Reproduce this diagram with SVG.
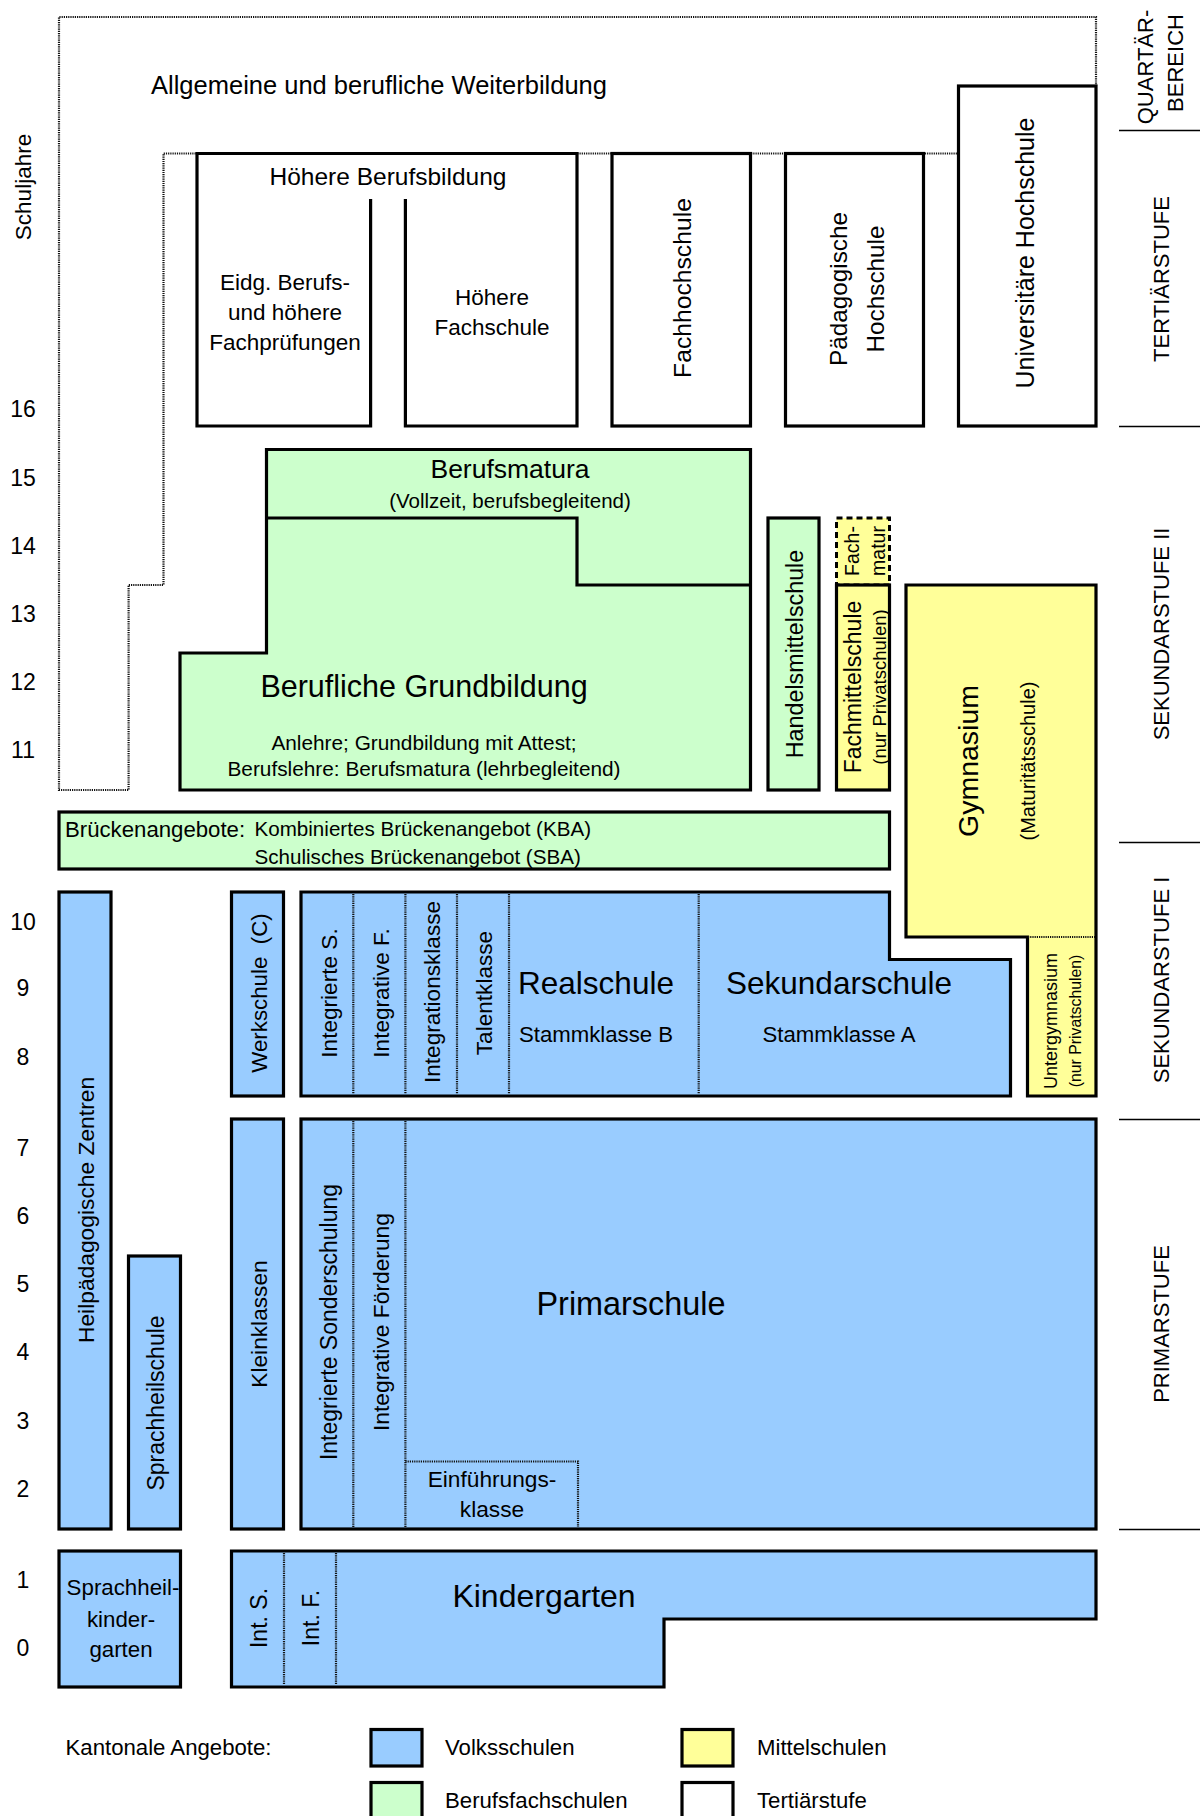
<svg xmlns="http://www.w3.org/2000/svg" width="1200" height="1816" viewBox="0 0 1200 1816">
<style>
text{font-family:"Liberation Sans",Arial,sans-serif;fill:#000}
.box{stroke:#000;stroke-width:3.2;stroke-linejoin:miter}
.b{fill:#99CCFF}
.g{fill:#CCFFCC}
.y{fill:#FFFF99}
.w{fill:#FFFFFF}
.dot{fill:none;stroke:#111;stroke-width:2.2;stroke-dasharray:1.2 1}
.thin{stroke:#000;stroke-width:1.3}
.v{text-anchor:middle;dominant-baseline:central}
.m{text-anchor:middle}
.num{font-size:23px;text-anchor:middle;dominant-baseline:central}
.stage{font-size:22px}
</style>

<!-- axis labels -->
<g id="axis">
<text class="v" font-size="22.5" transform="translate(23,187) rotate(-90)">Schuljahre</text>
<text class="num" x="23" y="409">16</text>
<text class="num" x="23" y="478">15</text>
<text class="num" x="23" y="546">14</text>
<text class="num" x="23" y="614">13</text>
<text class="num" x="23" y="682">12</text>
<text class="num" x="23" y="750">11</text>
<text class="num" x="23" y="922">10</text>
<text class="num" x="23" y="988">9</text>
<text class="num" x="23" y="1057">8</text>
<text class="num" x="23" y="1148">7</text>
<text class="num" x="23" y="1216">6</text>
<text class="num" x="23" y="1284">5</text>
<text class="num" x="23" y="1352">4</text>
<text class="num" x="23" y="1421">3</text>
<text class="num" x="23" y="1489">2</text>
<text class="num" x="23" y="1580">1</text>
<text class="num" x="23" y="1648">0</text>
</g>

<!-- stage labels right -->
<g id="stages">
<line class="thin" x1="1119" y1="130.5" x2="1200" y2="130.5"/>
<line class="thin" x1="1119" y1="426.5" x2="1200" y2="426.5"/>
<line class="thin" x1="1119" y1="842.5" x2="1200" y2="842.5"/>
<line class="thin" x1="1119" y1="1119.5" x2="1200" y2="1119.5"/>
<line class="thin" x1="1119" y1="1529.5" x2="1200" y2="1529.5"/>
<text class="v stage" font-size="20" transform="translate(1145,67) rotate(-90)">QUARTÄR-</text>
<text class="v stage" font-size="20" transform="translate(1175,63) rotate(-90)">BEREICH</text>
<text class="v stage" transform="translate(1161,279) rotate(-90)">TERTIÄRSTUFE</text>
<text class="v stage" transform="translate(1161,634) rotate(-90)">SEKUNDARSTUFE II</text>
<text class="v stage" transform="translate(1161,980) rotate(-90)">SEKUNDARSTUFE I</text>
<text class="v stage" transform="translate(1161,1324) rotate(-90)">PRIMARSTUFE</text>
</g>

<!-- connectors / region outlines -->
<g id="connectors">
<path class="dot" d="M1096,86 V17 H59 V790 H128.6 V585 H163.5 V153.5 H958"/>
</g>

<g id="weiterbildung">
<text x="151" y="94" font-size="25.5">Allgemeine und berufliche Weiterbildung</text>
</g>

<!-- Tertiary -->
<g id="hoehere-berufsbildung">
<path class="box" fill="none" d="M370.6,199 V426 H197 V153.5 H577 V426 H405.4 V199"/>
<text class="m" x="388" y="185" font-size="24.5">Höhere Berufsbildung</text>
<text class="m" x="285" y="290" font-size="22.5">Eidg. Berufs-</text>
<text class="m" x="285" y="320" font-size="22.5">und höhere</text>
<text class="m" x="285" y="350" font-size="22.5">Fachprüfungen</text>
<text class="m" x="492" y="305" font-size="22.5">Höhere</text>
<text class="m" x="492" y="335" font-size="22.5">Fachschule</text>
</g>
<g id="fachhochschule">
<rect class="box w" x="612" y="153.5" width="138.5" height="272.5"/>
<text class="v" font-size="24.7" transform="translate(682,288) rotate(-90)">Fachhochschule</text>
</g>
<g id="paedagogische-hochschule">
<rect class="box w" x="785.5" y="153.5" width="138" height="272.5"/>
<text class="v" font-size="24.3" transform="translate(838,289) rotate(-90)">Pädagogische</text>
<text class="v" font-size="24.3" transform="translate(875,289) rotate(-90)">Hochschule</text>
</g>
<g id="universitaere-hochschule">
<rect class="box w" x="958.5" y="86" width="137.5" height="340"/>
<text class="v" font-size="25" transform="translate(1025,253) rotate(-90)">Universitäre Hochschule</text>
</g>

<!-- Sekundarstufe II -->
<g id="berufsbildung">
<path class="box g" d="M180,790 V653 H266.5 V449.5 H750.5 V790 Z"/>
<path class="box" fill="none" d="M266.5,518 H577 V585 H750.5"/>
<text class="m" x="510" y="478" font-size="26.5">Berufsmatura</text>
<text class="m" x="510" y="508" font-size="20.5">(Vollzeit, berufsbegleitend)</text>
<text class="m" x="424" y="697" font-size="30.5">Berufliche Grundbildung</text>
<text class="m" x="424" y="750" font-size="20.8">Anlehre; Grundbildung mit Attest;</text>
<text class="m" x="424" y="776" font-size="20.8">Berufslehre: Berufsmatura (lehrbegleitend)</text>
</g>
<g id="handelsmittelschule">
<rect class="box g" x="768" y="518" width="51" height="272"/>
<text class="v" font-size="23.3" transform="translate(795,654) rotate(-90)">Handelsmittelschule</text>
</g>
<g id="fachmatur">
<rect x="836.5" y="518" width="53" height="67" fill="#FFFF99" stroke="#000" stroke-width="3" stroke-dasharray="6 4"/>
<text class="v" font-size="19.5" transform="translate(852,551) rotate(-90)">Fach-</text>
<text class="v" font-size="19.5" transform="translate(878,551) rotate(-90)">matur</text>
</g>
<g id="fachmittelschule">
<rect class="box y" x="836.5" y="585" width="53" height="205"/>
<text class="v" font-size="23" transform="translate(853,687) rotate(-90)">Fachmittelschule</text>
<text class="v" font-size="18.5" transform="translate(879,687) rotate(-90)">(nur Privatschulen)</text>
</g>
<g id="gymnasium">
<path class="box y" d="M906,585 H1096 V1096 H1027.5 V937 H906 Z"/>
<line class="dot" x1="1028" y1="937" x2="1095" y2="937"/>
<text class="v" font-size="28.5" transform="translate(968,761) rotate(-90)">Gymnasium</text>
<text class="v" font-size="20" transform="translate(1028,761) rotate(-90)">(Maturitätsschule)</text>
<text class="v" font-size="18" transform="translate(1051,1021) rotate(-90)">Untergymnasium</text>
<text class="v" font-size="15.8" transform="translate(1075,1021) rotate(-90)">(nur Privatschulen)</text>
</g>
<g id="brueckenangebote">
<rect class="box g" x="59" y="812" width="830.5" height="57"/>
<text x="65" y="837" font-size="22.2">Brückenangebote:</text>
<text x="254.5" y="836" font-size="20.6">Kombiniertes Brückenangebot (KBA)</text>
<text x="254.5" y="864" font-size="20.6">Schulisches Brückenangebot (SBA)</text>
</g>

<!-- Volksschule -->
<g id="heilpaedagogische-zentren">
<rect class="box b" x="59" y="892" width="52" height="637"/>
<text class="v" font-size="22.8" transform="translate(86,1210) rotate(-90)">Heilpädagogische Zentren</text>
</g>
<g id="sprachheilschule">
<rect class="box b" x="128.5" y="1256" width="52" height="273"/>
<text class="v" font-size="23" transform="translate(156,1403) rotate(-90)">Sprachheilschule</text>
</g>
<g id="werkschule">
<rect class="box b" x="231.5" y="892" width="52" height="204"/>
<text class="v" font-size="22.3" xml:space="preserve" transform="translate(259,993) rotate(-90)">Werkschule  (C)</text>
</g>
<g id="kleinklassen">
<rect class="box b" x="231.5" y="1119" width="52" height="410"/>
<text class="v" font-size="22.7" transform="translate(259,1324) rotate(-90)">Kleinklassen</text>
</g>
<g id="sekundarstufe-1">
<path class="box b" d="M301,892 H889.5 V959.5 H1010.5 V1096 H301 Z"/>
<line class="dot" x1="353.3" y1="894" x2="353.3" y2="1094"/>
<line class="dot" x1="405.4" y1="894" x2="405.4" y2="1094"/>
<line class="dot" x1="457" y1="894" x2="457" y2="1094"/>
<line class="dot" x1="509" y1="894" x2="509" y2="1094"/>
<line class="dot" x1="698.7" y1="894" x2="698.7" y2="1094"/>
<text class="v" font-size="22.6" transform="translate(329,993) rotate(-90)">Integrierte S.</text>
<text class="v" font-size="22.6" transform="translate(381,993) rotate(-90)">Integrative F.</text>
<text class="v" font-size="22.6" transform="translate(432,992) rotate(-90)">Integrationsklasse</text>
<text class="v" font-size="22.6" transform="translate(484,993) rotate(-90)">Talentklasse</text>
<text class="m" x="596" y="994" font-size="31.5">Realschule</text>
<text class="m" x="596" y="1042" font-size="22.2">Stammklasse B</text>
<text class="m" x="839" y="994" font-size="31.5">Sekundarschule</text>
<text class="m" x="839" y="1042" font-size="22.2">Stammklasse A</text>
</g>
<g id="primarschule">
<rect class="box b" x="301" y="1119" width="795" height="410"/>
<line class="dot" x1="353.3" y1="1121" x2="353.3" y2="1527"/>
<line class="dot" x1="405.4" y1="1121" x2="405.4" y2="1527"/>
<path class="dot" d="M405.4,1461.5 H578 V1527"/>
<text class="v" font-size="23" transform="translate(329,1322) rotate(-90)">Integrierte Sonderschulung</text>
<text class="v" font-size="22.8" transform="translate(381,1322) rotate(-90)">Integrative Förderung</text>
<text class="m" x="631" y="1315" font-size="32.4">Primarschule</text>
<text class="m" x="492" y="1487" font-size="22.7">Einführungs-</text>
<text class="m" x="492" y="1517" font-size="22.7">klasse</text>
</g>
<g id="sprachheilkindergarten">
<rect class="box b" x="59" y="1551" width="121.5" height="136"/>
<text class="m" x="123" y="1595" font-size="22.3">Sprachheil-</text>
<text class="m" x="121" y="1627" font-size="22.3">kinder-</text>
<text class="m" x="121" y="1657" font-size="22.3">garten</text>
</g>
<g id="kindergarten">
<path class="box b" d="M231.5,1551 H1096 V1619 H664 V1687 H231.5 Z"/>
<line class="dot" x1="284" y1="1553" x2="284" y2="1685"/>
<line class="dot" x1="336" y1="1553" x2="336" y2="1685"/>
<text class="v" font-size="23" transform="translate(259,1618) rotate(-90)">Int. S.</text>
<text class="v" font-size="23" transform="translate(311,1618) rotate(-90)">Int. F.</text>
<text class="m" x="544" y="1607" font-size="32">Kindergarten</text>
</g>

<!-- legend -->
<g id="legend">
<text x="65.5" y="1755" font-size="22.2">Kantonale Angebote:</text>
<rect class="box b" x="371" y="1729.5" width="51" height="36.5"/>
<text x="445" y="1755" font-size="22.2">Volksschulen</text>
<rect class="box g" x="371" y="1782.5" width="51" height="50"/>
<text x="445" y="1808" font-size="22.2">Berufsfachschulen</text>
<rect class="box y" x="682" y="1729.5" width="51" height="36.5"/>
<text x="757" y="1755" font-size="22.2">Mittelschulen</text>
<rect class="box w" x="682" y="1782.5" width="51" height="50"/>
<text x="757" y="1808" font-size="22.2">Tertiärstufe</text>
</g>
</svg>
